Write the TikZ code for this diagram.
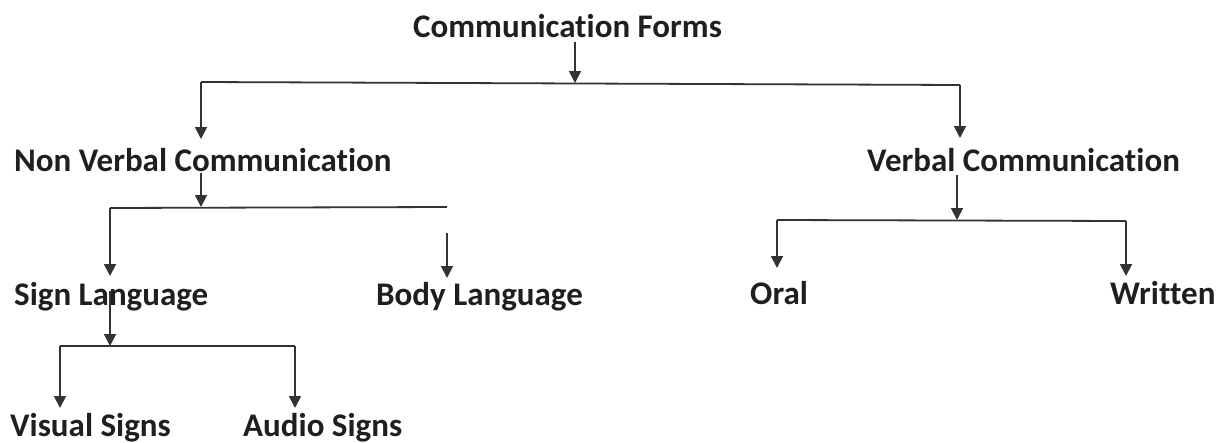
\documentclass[tikz,border=0pt]{standalone}
\usepackage{fontspec}
\setmainfont[RawFeature={-liga}]{Carlito}
\usetikzlibrary{arrows.meta,calc}
\begin{document}
\begin{tikzpicture}[x=1pt,y=-1pt,
  lbl/.style={font=\fontsize{33}{38}\selectfont\bfseries, text=black!88, inner sep=0pt, anchor=base west},
  ln/.style={draw=black!80, line width=1.8pt},
  arr/.style={ln, -{Triangle[width=12pt,length=12pt]}}]
\useasboundingbox (0,0) rectangle (1229,442);
% nodes
\node[lbl] (cf)  at (413,37)  {Communication Forms};
\node[lbl] (nvc) at (14,171)  {Non Verbal Communication};
\node[lbl] (vc)  at (867,171) {Verbal Communication};
\node[lbl] (sl)  at (14,305)  {Sign Language};
\node[lbl] (bl)  at (376,305) {Body Language};
\node[lbl] (or)  at (750,304) {Oral};
\node[lbl] (wr)  at (1110,304) {Written};
\node[lbl] (vs)  at (10,436)  {Visual Signs};
\node[lbl] (as)  at (243,436) {Audio Signs};
% junction coordinates
\coordinate (j0) at (575,83);
\coordinate (j0l) at (201,82);
\coordinate (j0r) at (960,85);
\coordinate (j1) at (201,207);
\coordinate (j1l) at (110,208);
\coordinate (j1r) at (447,207);
\coordinate (b0) at (447,233);
\coordinate (j2) at (957,220);
\coordinate (j2l) at (777,220);
\coordinate (j2r) at (1126,221);
\coordinate (j3) at (110,346);
\coordinate (j3l) at (60,346);
\coordinate (j3r) at (295,346);
% arrow starts below texts
\coordinate (s0) at ($(cf.base -| j0)+(0,5)$);
\coordinate (s1) at ($(nvc.base -| j1)+(0,2)$);
\coordinate (s2) at ($(vc.base -| j2)+(0,4)$);
\coordinate (s3) at ($(sl.base -| j3)+(0,-14)$);
% tips
\coordinate (t0l) at (201,139);
\coordinate (t0r) at (960,138);
\coordinate (t1l) at (110,276);
\coordinate (t1r) at (447,278);
\coordinate (t2l) at (777,268);
\coordinate (t2r) at (1126,276);
\coordinate (t3l) at (60,408);
\coordinate (t3r) at (295,408);
% connectors
\draw[arr] (s0) -- (j0);
\draw[ln] (j0l) -- (j0r);
\draw[arr] (j0l) -- (t0l);
\draw[arr] (j0r) -- (t0r);
\draw[arr] (s1) -- (j1);
\draw[ln] (j1l) -- (j1r);
\draw[arr] (j1l) -- (t1l);
\draw[arr] (b0) -- (t1r);
\draw[arr] (s2) -- (j2);
\draw[ln] (j2l) -- (j2r);
\draw[arr] (j2l) -- (t2l);
\draw[arr] (j2r) -- (t2r);
\draw[arr] (s3) -- (j3);
\draw[ln] (j3l) -- (j3r);
\draw[arr] (j3l) -- (t3l);
\draw[arr] (j3r) -- (t3r);
\end{tikzpicture}
\end{document}
